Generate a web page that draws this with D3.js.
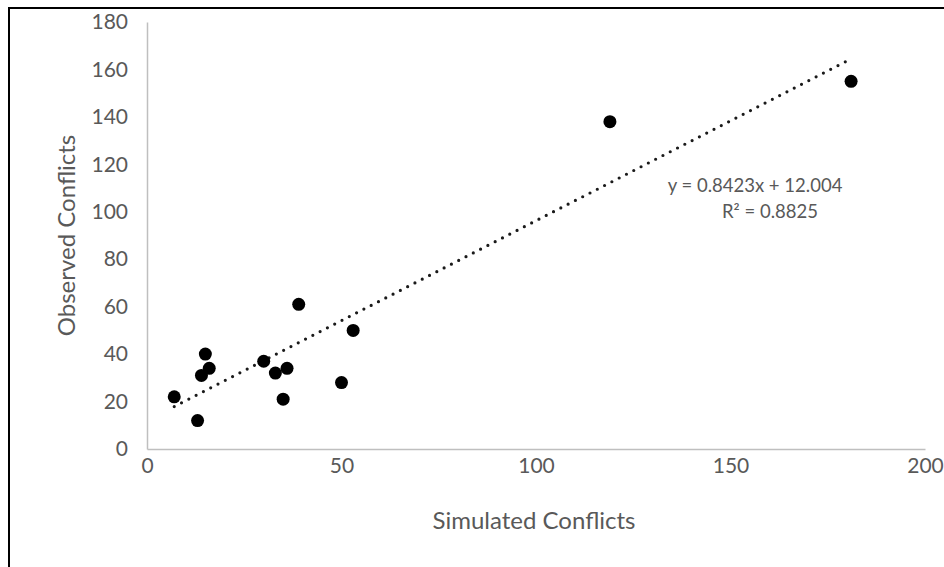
<!DOCTYPE html>
<meta charset="utf-8">
<script src="https://d3js.org/d3.v7.min.js"></script>
<style>
  body { margin: 0; background: #fff; }
  text { font-family: Lato, "Open Sans", sans-serif; fill: #595959; }
</style>
<body>
<div id="chart"></div>
<script>
  // observed vs simulated conflicts
  var simulated = [7, 13, 14, 15, 16, 30, 33, 35, 36, 39, 50, 53, 119, 181];
  var observed  = [22, 12, 31, 40, 34, 37, 32, 21, 34, 61, 28, 50, 138, 155];
  var xTicks = [0, 50, 100, 150, 200];
  var yTicks = [0, 20, 40, 60, 80, 100, 120, 140, 160, 180];
  var slope = 0.8423, intercept = 12.004;
  var eqLines = ["y = 0.8423x + 12.004", "R\u00b2 = 0.8825"];

  var W = 944, H = 567;
  var margin = {top: 22, right: 19, bottom: 118, left: 147},
      width = W - margin.left - margin.right,
      height = H - margin.top - margin.bottom;

  var root = d3.select("#chart").append("svg")
      .attr("width", W)
      .attr("height", H);

  // outer frame (only top and left are inside the picture)
  root.append("rect")
      .attr("x", 9).attr("y", 8)
      .attr("width", W + 10).attr("height", H + 10)
      .attr("fill", "none")
      .attr("stroke", "#000")
      .attr("stroke-width", 2);

  var svg = root.append("g")
      .attr("transform", `translate(${margin.left},${margin.top})`);

  var x = d3.scaleLinear().domain([0, 200]).range([0, width]);
  var y = d3.scaleLinear().domain([0, 180]).range([height, 0]);

  var xAxis = svg.append("g")
      .attr("transform", `translate(0,${height})`)
      .call(d3.axisBottom(x).tickValues(xTicks).tickSize(0).tickPadding(9));
  var yAxis = svg.append("g")
      .call(d3.axisLeft(y).tickValues(yTicks).tickSize(0).tickPadding(19));

  [xAxis, yAxis].forEach(function(a) {
    a.select(".domain").attr("stroke", "#bfbfbf").attr("stroke-width", 1.5);
    a.selectAll("text")
      .style("font-family", "Lato, sans-serif")
      .style("font-size", "21px")
      .attr("fill", "#595959");
  });

  // trendline
  var xs = d3.extent(simulated);
  svg.append("path")
      .datum(xs)
      .attr("d", d3.line().x(function(d) { return x(d); }).y(function(d) { return y(slope * d + intercept); }))
      .attr("fill", "none")
      .attr("stroke", "#1a1a1a")
      .attr("stroke-width", 3.2)
      .attr("stroke-linecap", "round")
      .attr("stroke-dasharray", "0,8.2");

  svg.selectAll("circle")
      .data(simulated)
      .join("circle")
        .attr("cx", function(d) { return x(d); })
        .attr("cy", function(d, i) { return y(observed[i]); })
        .attr("r", 6.5)
        .attr("fill", "#000");

  svg.append("text")
      .attr("y", y(108.5))
      .style("font-size", "18.5px")
      .attr("text-anchor", "middle")
      .selectAll("tspan")
      .data(eqLines)
      .join("tspan")
        .attr("x", function(d, i) { return x(156.3) + i * 15; })
        .attr("dy", function(d, i) { return i ? 26 : 0; })
        .text(function(d) { return d; });

  svg.append("text")
      .attr("x", width / 2 - 2)
      .attr("y", height + 80)
      .attr("text-anchor", "middle")
      .style("font-size", "24px")
      .text("Simulated Conflicts");

  svg.append("text")
      .attr("transform", `translate(${-72},${height / 2}) rotate(-90)`)
      .attr("text-anchor", "middle")
      .style("font-size", "24px")
      .text("Observed Conflicts");
</script>
</body>
